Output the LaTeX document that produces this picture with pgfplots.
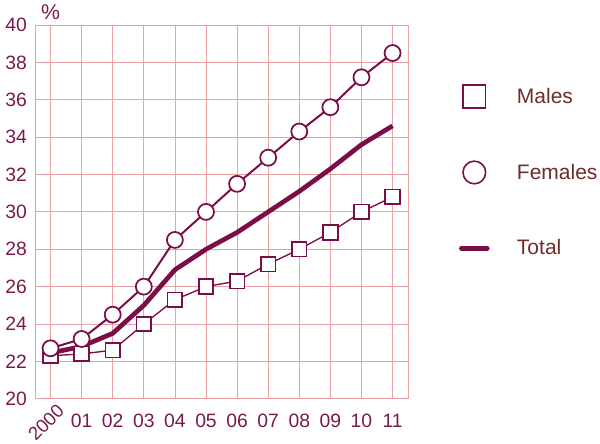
\documentclass[border=0pt]{standalone}
\usepackage{pgfplots}
\pgfplotsset{compat=1.18}
\usepackage{fontspec}
\setmainfont{Liberation Sans}
\definecolor{maroon}{HTML}{7B0D47}
\definecolor{gridc}{HTML}{E8A2A4}
\definecolor{labc}{HTML}{7A1A4C}
\definecolor{legc}{HTML}{6E2C2C}
\pgfplotsset{
  legmark/.style={legend image code/.code={\draw[##1] plot coordinates {(10.5pt,0pt)};}},
  legline/.style={legend image code/.code={\draw[##1] (1pt,0pt) -- (20pt,0pt);}},
}
\begin{document}
\begin{tikzpicture}
\begin{axis}[
  name=ax,
  width=280pt, height=280.5pt, scale only axis,
  xmin=-0.5, xmax=11.5, ymin=20, ymax=40,
  xtick={0,...,11},
  xticklabels={,01,02,03,04,05,06,07,08,09,10,11},
  ytick={20,22,...,40},
  major tick length=0pt,
  grid=major,
  grid style={gridc, line width=0.6pt},
  axis line style={gridc, line width=0.6pt},
  /pgf/number format/assume math mode=true,
  tick label style={font=\fontsize{14.5}{17}\selectfont, text=labc},
  yticklabel style={xshift=-2.5pt},
  xticklabel style={yshift=-8pt},
  legend style={draw=none, fill=none, inner sep=0pt, at={(1,0.6056)}, anchor=west, xshift=38pt,
    font=\fontsize{15.75}{18}\selectfont, text=legc, row sep=40pt},
  legend cell align=left,
  /tikz/every odd column/.append style={column sep=18.5pt},
  clip=false,
]
\addplot[forget plot, maroon, line width=1pt, mark=square*, mark size=5.5pt,
  mark options={fill=white, line width=1.3pt}] coordinates {
(0,22.3) (1,22.4) (2,22.6) (3,24.0) (4,25.3) (5,26.0) (6,26.3) (7,27.2) (8,28.0) (9,28.9) (10,30.0) (11,30.8)};
\addplot[forget plot, maroon, line width=3.5pt] coordinates {
(0,22.45) (1,22.8) (2,23.5) (3,25.0) (4,26.9) (5,28.0) (6,28.9) (7,30.0) (8,31.1) (9,32.3) (10,33.6) (11,34.6)};
\addplot[forget plot, maroon, line width=1.5pt, mark=*, mark size=6pt,
  mark options={fill=white, line width=1.3pt}] coordinates {
(0,22.7) (1,23.2) (2,24.5) (3,26.0) (4,28.5) (5,30.0) (6,31.5) (7,32.9) (8,34.3) (9,35.6) (10,37.2) (11,38.5)};
\addlegendimage{maroon, line width=1.2pt, mark=square*, mark size=8.5pt, mark options={fill=white}, legmark}
\addlegendentry{Males}
\addlegendimage{maroon, line width=1.2pt, mark=*, mark size=8.5pt, mark options={fill=white}, legmark}
\addlegendentry{Females}
\addlegendimage{maroon, line width=4pt, line cap=round, legline}
\addlegendentry{Total}
\node[rotate=45, anchor=east, inner sep=1pt, font=\fontsize{14}{17}\selectfont, text=labc] at ([shift={(8.5pt,-6pt)}]axis cs:0,20) {2000};
\node[anchor=south, inner sep=1pt, font=\fontsize{16}{18}\selectfont, text=labc] at ([yshift=3pt]axis cs:0,40) {\%};
\end{axis}
\pgfresetboundingbox
\path ([shift={(-26.25pt,-33.75pt)}]ax.south west) rectangle ([shift={(144pt,18.75pt)}]ax.north east);
\end{tikzpicture}
\end{document}
